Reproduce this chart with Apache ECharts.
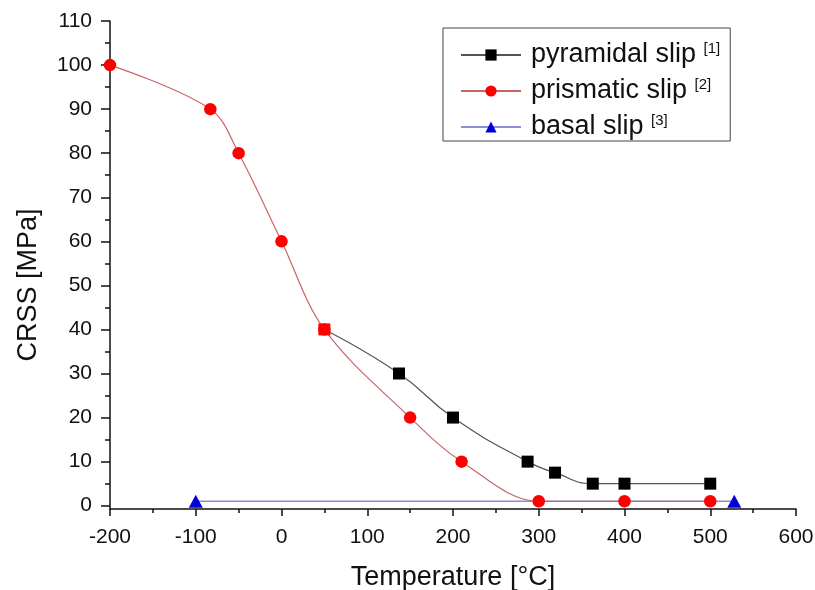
<!DOCTYPE html>
<html>
<head>
<meta charset="utf-8">
<script src="https://cdn.jsdelivr.net/npm/echarts@6/dist/echarts.min.js"></script>
<style>
  html, body { margin: 0; padding: 0; background: #fff; }
  #chart { width: 815px; height: 590px; }
</style>
</head>
<body>
<div id="chart"></div>
<script>
// Critical resolved shear stress vs. temperature for three slip systems
const seriesNames = ['pyramidal slip', 'prismatic slip', 'basal slip'];
const seriesRefs = ['[1]', '[2]', '[3]'];

const pyramidalT = [50, 137, 200, 287, 319, 363, 400, 500];
const pyramidalCRSS = [40, 30, 20, 10, 7.5, 5, 5, 5];

const prismaticT = [-200, -83, -50, 0, 50, 150, 210, 300, 400, 500];
const prismaticCRSS = [100, 90, 80, 60, 40, 20, 10, 1, 1, 1];

const basalT = [-100, 528];
const basalCRSS = [1, 1];

const xRange = [-200, 600];
const xStep = 100;
const yRange = [0, 110];
const yStep = 10;

const FONT = '"Liberation Sans", Arial, sans-serif';
const INK = '#111';

const pairs = (xs, ys) => xs.map((x, i) => [x, ys[i]]);

// The first pyramidal point coincides with a prismatic one and is shown in red
const pyramidalData = pairs(pyramidalT, pyramidalCRSS).map((p, i) =>
  i === 0 ? { value: p, itemStyle: { color: '#f00' } } : p
);

const axisLineStyle = { color: INK, width: 1.5 };

const chart = echarts.init(document.getElementById('chart'), null, { renderer: 'canvas' });

chart.setOption({
  animation: false,
  backgroundColor: '#fff',
  grid: [
    // data grid: bottom edge sits slightly below CRSS = 0
    { left: 110, right: 19, top: 21, bottom: 81, outerBoundsMode: 'none', containLabel: false },
    // labelled CRSS scale, 0 .. 110
    { left: 110, right: 19, top: 21, bottom: 84.3, outerBoundsMode: 'none', containLabel: false }
  ],
  xAxis: [
    {
      gridIndex: 0,
      type: 'value',
      min: xRange[0],
      max: xRange[1],
      interval: xStep,
      name: 'Temperature [°C]',
      nameLocation: 'middle',
      nameGap: 55,
      nameTextStyle: { fontSize: 27, color: INK, fontFamily: FONT },
      axisLine: { onZero: false, lineStyle: axisLineStyle },
      axisTick: { show: true, inside: false, length: 7, lineStyle: axisLineStyle },
      minorTick: { show: true, splitNumber: 2, length: 4, lineStyle: axisLineStyle },
      axisLabel: { fontSize: 21, margin: 18, color: INK, fontFamily: FONT },
      splitLine: { show: false }
    },
    {
      gridIndex: 1,
      type: 'value',
      min: xRange[0],
      max: xRange[1],
      show: false
    }
  ],
  yAxis: [
    {
      gridIndex: 0,
      type: 'value',
      min: -0.75,
      max: yRange[1],
      axisLine: { show: true, onZero: false, lineStyle: axisLineStyle },
      axisTick: { show: false },
      axisLabel: { show: false },
      splitLine: { show: false }
    },
    {
      gridIndex: 1,
      type: 'value',
      min: yRange[0],
      max: yRange[1],
      interval: yStep,
      axisLine: { show: false, onZero: false },
      axisTick: { show: true, inside: false, length: 9, lineStyle: axisLineStyle },
      minorTick: { show: true, splitNumber: 2, length: 5, lineStyle: axisLineStyle },
      axisLabel: { fontSize: 21, margin: 18, color: INK, fontFamily: FONT },
      splitLine: { show: false }
    }
  ],
  legend: {
    orient: 'vertical',
    left: 443,
    top: 28,
    padding: [13, 10, 0, 17],
    itemWidth: 60,
    itemHeight: 14,
    itemGap: 8,
    borderColor: '#444',
    borderWidth: 1,
    data: seriesNames,
    formatter: name => name + ' {sup|' + seriesRefs[seriesNames.indexOf(name)] + '}',
    textStyle: {
      fontSize: 27,
      fontFamily: FONT,
      color: INK,
      lineHeight: 28,
      padding: [0, 0, 0, 5],
      rich: {
        sup: { fontSize: 15, lineHeight: 15, verticalAlign: 'top', fontFamily: FONT, color: INK }
      }
    }
  },
  graphic: [
    {
      type: 'text',
      x: 29,
      y: 285,
      rotation: Math.PI / 2,
      style: {
        text: 'CRSS [MPa]',
        font: '27px ' + FONT,
        fill: INK,
        align: 'center',
        verticalAlign: 'middle'
      }
    }
  ],
  series: [
    {
      name: seriesNames[0],
      type: 'line',
      xAxisIndex: 0,
      yAxisIndex: 0,
      data: pyramidalData,
      smooth: 0.5,
      symbol: 'rect',
      symbolSize: 12,
      itemStyle: { color: '#000' },
      lineStyle: { color: '#555', width: 1.2 },
      z: 4
    },
    {
      name: seriesNames[1],
      type: 'line',
      xAxisIndex: 0,
      yAxisIndex: 0,
      data: pairs(prismaticT, prismaticCRSS),
      smooth: 0.35,
      symbol: 'circle',
      symbolSize: 12.5,
      itemStyle: { color: '#f00' },
      lineStyle: { color: '#c86464', width: 1.2 },
      z: 3
    },
    {
      name: seriesNames[2],
      type: 'line',
      xAxisIndex: 0,
      yAxisIndex: 0,
      data: pairs(basalT, basalCRSS),
      symbol: 'triangle',
      symbolSize: [14, 13],
      itemStyle: { color: '#0000dd' },
      lineStyle: { color: '#8c8cdc', width: 1.5 },
      z: 2
    }
  ]
});
</script>
</body>
</html>
